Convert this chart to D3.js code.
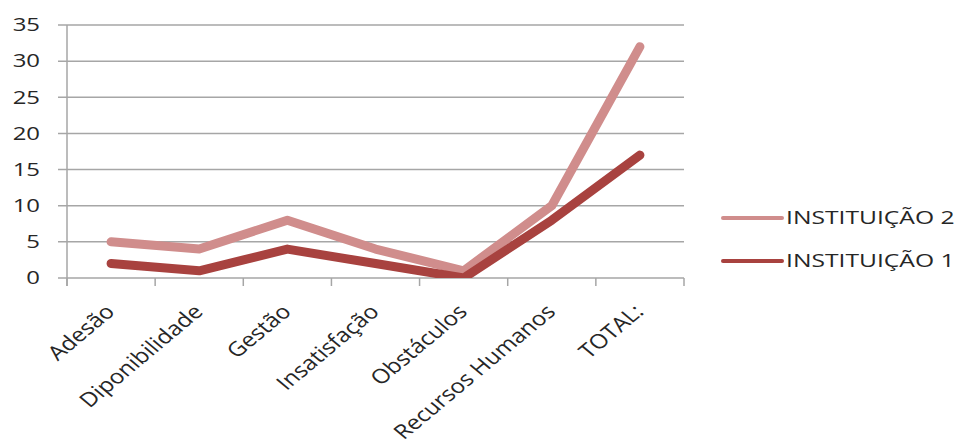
<!DOCTYPE html>
<html>
<head>
<meta charset="utf-8">
<script src="https://cdn.jsdelivr.net/npm/d3@7"></script>
<style>
  body { margin: 0; background: #fff; }
  svg { display: block; font-family: "Open Sans", sans-serif; }
</style>
</head>
<body>
<svg id="chart" width="957" height="446"></svg>
<script>
// chart values
const categories = ["Adesão", "Diponibilidade", "Gestão", "Insatisfação", "Obstáculos", "Recursos Humanos", "TOTAL:"];
const inst2 = [5, 4, 8, 4, 1, 10, 32];
const inst1 = [2, 1, 4, 2, 0, 8, 17];
const yTicks = [0, 5, 10, 15, 20, 25, 30, 35];
const seriesNames = ["INSTITUIÇÃO 2", "INSTITUIÇÃO 1"];

const width = 957;
const height = 446;
const plot = { left: 67, right: 684, top: 25, bottom: 278 };
// the source picture is stretched sideways, so text gets a horizontal scale
const stretch = 1.33;

const svg = d3.select('#chart');

const x = d3.scaleBand()
    .domain(categories)
    .range([plot.left, plot.right]);

const y = d3.scaleLinear()
    .domain([0, 35])
    .range([plot.bottom, plot.top]);

const cx = d => x(d) + x.bandwidth() / 2;

// gridlines (with the little tick stubs on the left)
svg.append("g")
    .attr("stroke", "#a6a6a6")
    .attr("stroke-width", 1.5)
    .selectAll("line")
    .data(yTicks)
    .join("line")
    .attr("x1", plot.left - 9)
    .attr("x2", plot.right)
    .attr("y1", d => y(d))
    .attr("y2", d => y(d));

// y axis labels
const yAxis = d3.axisLeft(y).tickValues(yTicks).tickSize(0).tickPadding(27);
const gy = svg.append("g")
    .attr("transform", `translate(${plot.left},0)`)
    .call(yAxis);
gy.select(".domain").remove();
gy.selectAll("text")
    .attr("font-family", "Open Sans, sans-serif")
    .attr("font-size", 18)
    .attr("fill", "#262626")
    .attr("x", -27 / stretch)
    .attr("transform", `scale(${stretch},1)`);

// vertical axis line
svg.append("line")
    .attr("x1", plot.left).attr("x2", plot.left)
    .attr("y1", y(35)).attr("y2", plot.bottom + 8)
    .attr("stroke", "#a6a6a6")
    .attr("stroke-width", 1.5);

// x tick marks on the category boundaries
const bounds = categories.map(c => x(c)).concat([x.range()[1]]);
svg.append("g")
    .attr("stroke", "#a6a6a6")
    .attr("stroke-width", 1.5)
    .selectAll("line")
    .data(bounds)
    .join("line")
    .attr("x1", d => d).attr("x2", d => d)
    .attr("y1", plot.bottom).attr("y2", plot.bottom + 8);

// x labels, rotated
svg.append("g")
    .selectAll("text")
    .data(categories)
    .join("text")
    .attr("transform", d => `translate(${cx(d) + 5},${plot.bottom + 35}) scale(1.2,1) rotate(-45)`)
    .attr("text-anchor", "end")
    .attr("font-size", 20)
    .attr("fill", "#262626")
    .text(d => d);

// clip lines to plot area
svg.append("clipPath").attr("id", "plotClip")
    .append("rect")
    .attr("x", plot.left).attr("y", 0)
    .attr("width", plot.right - plot.left)
    .attr("height", plot.bottom);

const line = d3.line()
    .x((d, i) => cx(categories[i]))
    .y(d => y(d));

const series = [
    { name: seriesNames[0], values: inst2, color: "#d08d8c" },
    { name: seriesNames[1], values: inst1, color: "#a8423f" }
];

svg.append("g")
    .attr("clip-path", "url(#plotClip)")
    .selectAll("path")
    .data(series)
    .join("path")
    .attr("d", d => line(d.values))
    .attr("fill", "none")
    .attr("stroke", d => d.color)
    .attr("stroke-width", 9)
    .attr("stroke-linecap", "round")
    .attr("stroke-linejoin", "round");

// legend
const legend = svg.append("g")
    .selectAll("g")
    .data(series)
    .join("g")
    .attr("transform", (d, i) => `translate(723,${218 + i * 43})`);

legend.append("line")
    .attr("x1", 0).attr("x2", 59)
    .attr("stroke", d => d.color)
    .attr("stroke-width", 4)
    .attr("stroke-linecap", "round");

legend.append("text")
    .attr("transform", "translate(63,0) scale(1.37,1)")
    .attr("dy", "0.36em")
    .attr("font-size", 18)
    .attr("fill", "#262626")
    .text(d => d.name);
</script>
</body>
</html>
